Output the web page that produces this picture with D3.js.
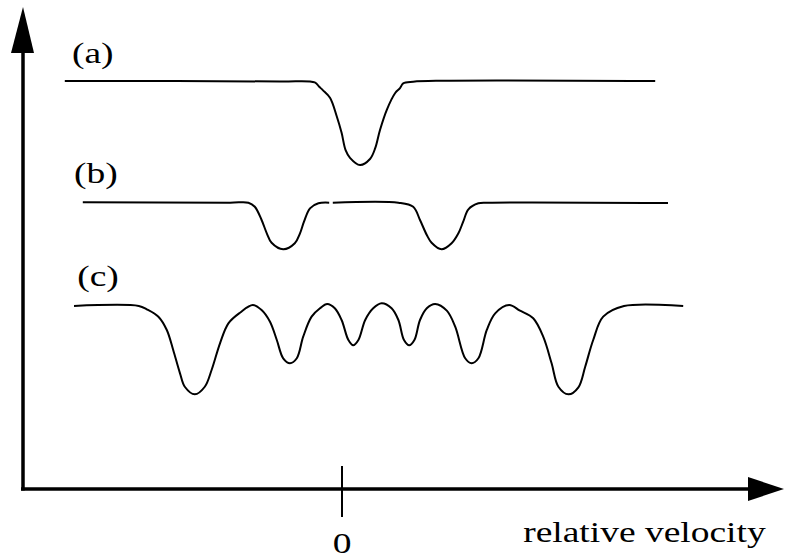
<!DOCTYPE html>
<html>
<head>
<meta charset="utf-8">
<script src="https://cdn.jsdelivr.net/npm/d3@7/dist/d3.min.js"></script>
<style>
  html, body { margin: 0; padding: 0; background: #fff; }
  svg { display: block; }
  text { font-family: "Liberation Serif", "Times New Roman", serif; fill: #000; }
</style>
</head>
<body>
<svg id="chart" width="786" height="558"></svg>
<script>
// Schematic Mössbauer spectra: (a) single line, (b) quadrupole doublet, (c) magnetic sextet.
// Points are [relative velocity, transmitted intensity].

const spectrumLabels = ["(a)", "(b)", "(c)"];
const axisTitle = "relative velocity";
const tickValues = [0];
const tickLabels = ["0"];

// (a) single absorption line
const spectrumA = [
  [-6.93, 85.0], [-1.55, 84.9], [-0.68, 84.7], [-0.57, 83.8], [-0.48, 83.1],
  [-0.30, 81.5], [-0.13, 77.6], [-0.01, 74.2], [0.09, 70.6], [0.20, 69.0],
  [0.45, 67.5], [0.70, 68.75], [0.83, 71.0], [0.95, 74.8], [1.12, 79.0],
  [1.33, 82.5], [1.45, 83.5], [1.53, 84.5], [1.78, 84.85], [2.45, 85.05],
  [7.83, 85.0]
];

// (b) doublet, drawn as two pieces with a small break between them
const spectrumB1 = [
  [-6.48, 59.75], [-2.80, 59.65], [-2.34, 59.65], [-2.18, 58.8], [-2.01, 56.04],
  [-1.88, 53.27], [-1.76, 51.3], [-1.47, 49.94], [-1.18, 51.19], [-1.05, 53.27],
  [-0.95, 55.69], [-0.80, 58.48], [-0.59, 59.52], [-0.32, 59.65]
];
const spectrumB2 = [
  [-0.23, 59.65], [1.41, 59.65], [1.78, 58.8], [1.95, 56.04], [2.12, 52.92],
  [2.24, 51.3], [2.49, 49.94], [2.74, 51.19], [2.91, 53.27], [3.03, 55.69],
  [3.16, 58.27], [3.41, 59.52], [3.66, 59.65], [8.15, 59.6]
];

// (c) six-line magnetic pattern
const spectrumC = [
  [-6.70, 38.13], [-5.08, 38.13], [-4.88, 37.44], [-4.59, 35.9], [-4.38, 33.13],
  [-4.22, 28.96], [-4.05, 24.1], [-3.93, 21.3], [-3.68, 19.73], [-3.43, 21.3],
  [-3.26, 24.79], [-3.05, 30.35], [-2.84, 34.52], [-2.55, 36.73], [-2.23, 38.33],
  [-2.01, 37.29], [-1.80, 34.85], [-1.63, 31.04], [-1.47, 27.23], [-1.30, 26.19],
  [-1.13, 27.23], [-0.97, 31.73], [-0.76, 35.9], [-0.55, 37.65], [-0.37, 38.54],
  [-0.18, 37.65], [-0.01, 35.21], [0.16, 31.04], [0.28, 29.94], [0.41, 31.04],
  [0.58, 35.21], [0.78, 37.65], [0.99, 38.69], [1.24, 37.65], [1.41, 35.21],
  [1.55, 31.04], [1.68, 29.94], [1.81, 31.04], [1.95, 35.21], [2.12, 37.65],
  [2.33, 38.54], [2.62, 37.15], [2.83, 33.81], [3.08, 27.23], [3.24, 26.19],
  [3.41, 27.23], [3.62, 33.13], [3.83, 36.6], [4.18, 38.33], [4.45, 37.15],
  [4.78, 35.56], [5.03, 31.73], [5.24, 26.19], [5.41, 21.3], [5.66, 19.73],
  [5.91, 21.19], [6.08, 25.48], [6.28, 31.04], [6.53, 35.9], [7.05, 38.13],
  [8.53, 38.13]
];

// label anchor points [velocity, intensity]
const labelPositions = [[-6.75, 88.75], [-6.7, 63.75], [-6.62, 42.3]];

const svg = d3.select("#chart");

const x = d3.scaleLinear().domain([-8, 11]).range([22, 782]);
const y = d3.scaleLinear().domain([0, 100]).range([489, 9]);

const line = d3.line()
  .x(d => x(d[0]))
  .y(d => y(d[1]))
  .curve(d3.curveCatmullRom.alpha(0.5));

// spectra
[spectrumA, spectrumB1, spectrumB2, spectrumC].forEach(s => {
  svg.append("path")
    .attr("d", line(s))
    .attr("fill", "none")
    .attr("stroke", "#000")
    .attr("stroke-width", 2)
    .attr("stroke-linejoin", "round");
});

// axes
const x0 = x.range()[0] + 1, y0 = y(0);
svg.append("line")
  .attr("x1", x0).attr("y1", y0 + 1.5)
  .attr("x2", x0).attr("y2", y.range()[1] + 40)
  .attr("stroke", "#000").attr("stroke-width", 3.5);
svg.append("path")
  .attr("d", `M${x0},${y.range()[1] - 2} L${x0 - 12},${y.range()[1] + 44} L${x0 + 11},${y.range()[1] + 44} Z`)
  .attr("fill", "#000");

svg.append("line")
  .attr("x1", x0 - 2).attr("y1", y0)
  .attr("x2", x.range()[1] - 30).attr("y2", y0)
  .attr("stroke", "#000").attr("stroke-width", 3.5);
svg.append("path")
  .attr("d", `M${x.range()[1] + 2},${y0} L${x.range()[1] - 34},${y0 - 12} L${x.range()[1] - 34},${y0 + 12} Z`)
  .attr("fill", "#000");

// tick at zero
tickValues.forEach((t, i) => {
  svg.append("line")
    .attr("x1", x(t)).attr("x2", x(t))
    .attr("y1", y0 - 23).attr("y2", y0 + 28)
    .attr("stroke", "#000").attr("stroke-width", 2);
  svg.append("text")
    .attr("transform", `translate(${x(t)},${y0 + 64}) scale(1.25,1)`)
    .attr("text-anchor", "middle")
    .attr("font-size", 30)
    .text(tickLabels[i]);
});

// axis title
svg.append("text")
  .attr("transform", `translate(${x(4.53)},${y0 + 53}) scale(1.25,1)`)
  .attr("font-size", 30)
  .text(axisTitle);

// spectrum labels
spectrumLabels.forEach((lab, i) => {
  const p = labelPositions[i];
  svg.append("text")
    .attr("transform", `translate(${x(p[0])},${y(p[1])}) scale(1.25,1)`)
    .attr("font-size", 30)
    .text(lab);
});
</script>
</body>
</html>
